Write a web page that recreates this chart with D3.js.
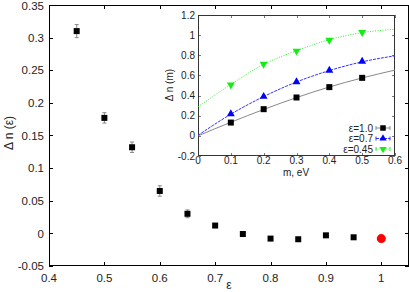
<!DOCTYPE html>
<html>
<head>
<meta charset="utf-8">
<script src="https://cdn.jsdelivr.net/npm/d3@7"></script>
<style>
  body { margin: 0; background: #fff; }
  svg { display: block; font-family: "Liberation Sans", Arial, sans-serif; }
  .tick-label { fill: #222; }
</style>
</head>
<body>
<svg id="chart" width="409" height="292"></svg>
<script>
// main panel: Δn(ε)
const eps = [0.45, 0.5, 0.55, 0.6, 0.65, 0.7, 0.75, 0.8, 0.85, 0.9, 0.95]
const dn = [0.310, 0.177, 0.132, 0.065, 0.030, 0.012, -0.001, -0.008, -0.009, -0.003, -0.006]
const dnErr = [0.010, 0.008, 0.008, 0.008, 0.006, 0.002, 0.001, 0.001, 0.001, 0.001, 0.001]
const redEps = [1.0]
const redDn = [-0.008]
const mainXTicks = [0.4, 0.5, 0.6, 0.7, 0.8, 0.9, 1]
const mainYTicks = [-0.05, 0, 0.05, 0.1, 0.15, 0.2, 0.25, 0.3, 0.35]

// inset: Δn(m)
const mass = [0.1, 0.2, 0.3, 0.4, 0.5]
const dnEps10 = [0.132, 0.265, 0.381, 0.484, 0.576]
const dnEps07 = [0.218, 0.391, 0.536, 0.650, 0.739]
const dnEps045 = [0.506, 0.712, 0.842, 0.951, 1.028]
const fitMass = [0, 0.1, 0.2, 0.3, 0.4, 0.5, 0.6]
const fitEps10 = [0, 0.135, 0.262, 0.380, 0.485, 0.575, 0.653]
const fitEps07 = [0.005, 0.215, 0.390, 0.535, 0.648, 0.735, 0.795]
const fitEps045 = [0.288, 0.510, 0.710, 0.845, 0.955, 1.025, 1.058]
const insetXTicks = [0, 0.1, 0.2, 0.3, 0.4, 0.5, 0.6]
const insetYTicks = [-0.2, 0, 0.2, 0.4, 0.6, 0.8, 1, 1.2]
const legendLabels = ['ε=1.0', 'ε=0.7', 'ε=0.45']

const svg = d3.select('#chart')

// generic gnuplot-like frame with inward mirrored ticks
const drawFrame = (g, x, y, xTicks, yTicks, opts) => {
    const [x0, x1] = x.range()
    const [y0, y1] = y.range()
    const tl = opts.tickLen

    g.append('rect')
        .attr('x', x0).attr('y', y1)
        .attr('width', x1 - x0).attr('height', y0 - y1)
        .attr('fill', '#fff')
        .attr('stroke', 'none')

    xTicks.forEach(t => {
        const px = Math.round(x(t)) + 0.5
        g.append('line').attr('x1', px).attr('x2', px).attr('y1', y0).attr('y2', y0 - tl)
            .attr('stroke', opts.tickColor)
        g.append('line').attr('x1', px).attr('x2', px).attr('y1', y1).attr('y2', y1 + tl)
            .attr('stroke', opts.tickColor)
        g.append('text').attr('class', 'tick-label')
            .attr('x', x(t)).attr('y', y0 + opts.xLabelDy)
            .attr('text-anchor', 'middle')
            .attr('font-size', opts.fontSize)
            .text(opts.fmt(t))
    })

    yTicks.forEach(t => {
        const py = Math.round(y(t)) + 0.5
        g.append('line').attr('x1', x0).attr('x2', x0 + tl).attr('y1', py).attr('y2', py)
            .attr('stroke', opts.tickColor)
        g.append('line').attr('x1', x1).attr('x2', x1 - tl).attr('y1', py).attr('y2', py)
            .attr('stroke', opts.tickColor)
        g.append('text').attr('class', 'tick-label')
            .attr('x', x0 - opts.yLabelDx).attr('y', Math.max(y(t), opts.minLabelY || 0))
            .attr('dy', '0.36em')
            .attr('text-anchor', 'end')
            .attr('font-size', opts.fontSize)
            .text(opts.fmt(t))
    })

    g.append('rect')
        .attr('x', x0 + 0.5).attr('y', y1 + 0.5)
        .attr('width', x1 - x0 - 1).attr('height', y0 - y1 - 1)
        .attr('fill', 'none')
        .attr('stroke', opts.frameColor)
        .attr('stroke-width', 1)
}

const fmt = t => String(+t.toFixed(2))

// ---------- main panel ----------
const x = d3.scaleLinear().domain([0.4, 1.05]).range([49, 409])
const y = d3.scaleLinear().domain([-0.05, 0.35]).range([266, 5])

const main = svg.append('g')
drawFrame(main, x, y, mainXTicks, mainYTicks, {
    tickLen: 4, tickColor: '#000', frameColor: '#000',
    fontSize: 11.5, xLabelDy: 16, yLabelDx: 5, fmt, minLabelY: 5.5
})

const pts = eps.map((e, i) => ({ e, v: dn[i], err: dnErr[i] }))

main.selectAll('.err')
    .data(pts)
    .enter()
    .append('g')
    .each(function(d) {
        const g = d3.select(this)
        const cx = x(d.e)
        g.append('line').attr('x1', cx).attr('x2', cx)
            .attr('y1', y(d.v - d.err)).attr('y2', y(d.v + d.err))
            .attr('stroke', '#888').attr('stroke-width', 1)
        ;[d.v - d.err, d.v + d.err].forEach(v => {
            g.append('line').attr('x1', cx - 2).attr('x2', cx + 2)
                .attr('y1', y(v)).attr('y2', y(v))
                .attr('stroke', '#888').attr('stroke-width', 1)
        })
    })

main.selectAll('.sq')
    .data(pts)
    .enter()
    .append('rect')
    .attr('x', d => x(d.e) - 3)
    .attr('y', d => y(d.v) - 3)
    .attr('width', 6).attr('height', 6)
    .attr('fill', '#000')

main.selectAll('.red')
    .data(redEps.map((e, i) => ({ e, v: redDn[i] })))
    .enter()
    .append('circle')
    .attr('cx', d => x(d.e))
    .attr('cy', d => y(d.v))
    .attr('r', 4.5)
    .attr('fill', '#f00')

main.append('text')
    .attr('transform', 'translate(13,133) rotate(-90)')
    .attr('text-anchor', 'middle')
    .attr('font-size', 12)
    .attr('fill', '#222')
    .text('Δ n (ε)')

main.append('text')
    .attr('x', 229).attr('y', 289)
    .attr('text-anchor', 'middle')
    .attr('font-size', 12)
    .attr('fill', '#222')
    .text('ε')

// ---------- inset ----------
const ix = d3.scaleLinear().domain([0, 0.6]).range([198, 395])
const iy = d3.scaleLinear().domain([-0.2, 1.2]).range([156, 15])

const inset = svg.append('g')
drawFrame(inset, ix, iy, insetXTicks, insetYTicks, {
    tickLen: 3, tickColor: '#777', frameColor: '#333',
    fontSize: 10, xLabelDy: 8, yLabelDx: 3, fmt
})

const series = [
    { vals: dnEps10, fit: fitEps10, color: '#000', line: '#888', dash: null, shape: 'square' },
    { vals: dnEps07, fit: fitEps07, color: '#0000ff', line: '#3333ff', dash: '3,1', shape: 'up' },
    { vals: dnEps045, fit: fitEps045, color: '#11ee11', line: '#33ee33', dash: '1,1.5', shape: 'down' }
]

const fitLine = d3.line()
    .x((d, i) => ix(fitMass[i]))
    .y(d => iy(d))
    .curve(d3.curveMonotoneX)

const marker = (g, shape, cx, cy, color, s) => {
    if (shape === 'square') {
        g.append('rect').attr('x', cx - s / 2).attr('y', cy - s / 2)
            .attr('width', s).attr('height', s).attr('fill', color)
    } else {
        const sym = d3.symbol().type(d3.symbolTriangle).size(s * s * 0.75)
        g.append('path').attr('d', sym())
            .attr('transform', `translate(${cx},${cy})` + (shape === 'down' ? ' rotate(180)' : ''))
            .attr('fill', color)
    }
}

const clip = inset.append('clipPath').attr('id', 'inset-clip')
clip.append('rect').attr('x', 198).attr('y', 15).attr('width', 197).attr('height', 141)

series.forEach(s => {
    inset.append('path')
        .attr('d', fitLine(s.fit))
        .attr('clip-path', 'url(#inset-clip)')
        .attr('fill', 'none')
        .attr('stroke', s.line)
        .attr('stroke-width', 1)
        .attr('stroke-dasharray', s.dash)
    s.vals.forEach((v, i) => marker(inset, s.shape, ix(mass[i]), iy(v), s.color, 6))
})

inset.append('text')
    .attr('x', 296).attr('y', 176)
    .attr('text-anchor', 'middle')
    .attr('font-size', 10)
    .attr('fill', '#222')
    .text('m, eV')

inset.append('text')
    .attr('transform', 'translate(173,85) rotate(-90)')
    .attr('text-anchor', 'middle')
    .attr('font-size', 10)
    .attr('fill', '#222')
    .text('Δ n (m)')

// legend
const legY = [128, 138.5, 149]
series.forEach((s, i) => {
    const ly = legY[i]
    inset.append('text')
        .attr('x', 373).attr('y', ly)
        .attr('dy', '0.36em')
        .attr('text-anchor', 'end')
        .attr('font-size', 10)
        .attr('fill', '#222')
        .text(legendLabels[i])
    inset.append('line')
        .attr('x1', 376).attr('x2', 390).attr('y1', ly).attr('y2', ly)
        .attr('stroke', s.line).attr('stroke-dasharray', s.dash)
    ;[376, 390].forEach(lx => {
        inset.append('line').attr('x1', lx).attr('x2', lx).attr('y1', ly - 2).attr('y2', ly + 2)
            .attr('stroke', s.line)
    })
    marker(inset, s.shape, 383, ly, s.color, 5.5)
})
</script>
</body>
</html>
